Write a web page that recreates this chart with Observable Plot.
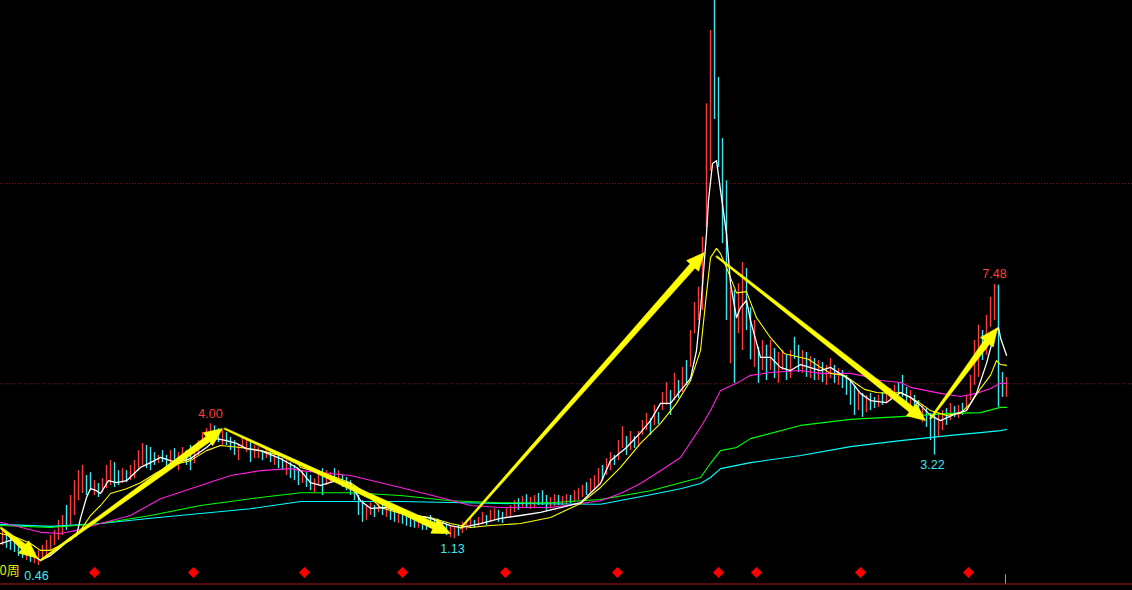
<!DOCTYPE html>
<html><head><meta charset="utf-8">
<script src="https://cdn.jsdelivr.net/npm/d3@7"></script>
<script src="https://cdn.jsdelivr.net/npm/@observablehq/plot@0.6"></script>
<style>html,body{margin:0;padding:0;background:#000;overflow:hidden}</style>
</head><body><div id="chart"></div>
<script>
// Weekly bars (every 2 weeks), price high / low, u = up (red), d = down (cyan)
const highs = [
1.34,1.29,1.21,1.14,1.04,0.96,0.89,0.84,0.79,0.84,
0.96,1.09,1.21,1.34,1.59,1.71,1.96,2.21,2.58,2.83,
2.96,2.71,2.78,2.58,2.51,2.63,2.96,3.08,3.03,2.83,
2.88,2.83,2.96,3.08,3.33,3.51,3.46,3.41,3.28,3.21,
3.33,3.21,3.33,3.38,3.28,3.41,3.33,3.46,3.38,3.58,
3.78,3.88,4.00,3.95,3.88,3.83,3.78,3.66,3.58,3.46,
3.66,3.58,3.53,3.46,3.41,3.33,3.38,3.33,3.28,3.21,
3.13,3.08,3.03,2.96,2.88,2.83,2.78,2.71,2.63,2.83,
2.88,2.83,2.78,2.88,2.83,2.71,2.66,2.58,2.46,2.21,
2.08,1.96,2.03,1.96,2.08,2.01,1.96,1.88,1.84,1.79,
1.76,1.71,1.69,1.64,1.66,1.64,1.59,1.71,1.59,1.54,
1.54,1.49,1.46,1.41,1.46,1.54,1.59,1.64,1.59,1.66,
1.79,1.71,1.84,1.88,1.84,1.79,1.88,1.96,2.08,2.13,
2.18,2.23,2.16,2.21,2.26,2.33,2.21,2.16,2.23,2.21,
2.18,2.23,2.21,2.33,2.38,2.46,2.53,2.63,2.71,2.88,
2.96,3.13,3.28,3.21,3.58,3.93,3.68,3.81,3.68,3.81,
4.08,4.26,4.13,4.46,4.28,4.78,5.03,4.83,5.26,5.08,
5.41,5.58,6.33,7.03,7.41,8.66,11.99,13.82,14.8,12.65,
11.12,10.07,7.41,7.33,7.50,8.03,7.88,6.90,6.58,5.91,
6.08,5.96,6.08,5.88,5.78,5.83,5.71,5.83,6.16,5.96,
5.83,5.78,5.68,5.63,5.58,5.53,5.46,5.63,5.46,5.38,
5.33,5.21,5.08,4.96,4.83,4.76,4.71,4.76,4.66,4.71,
4.78,4.83,4.88,4.96,5.01,5.21,4.91,4.83,4.71,4.58,
4.46,4.38,4.26,4.21,4.28,4.33,4.38,4.51,4.43,4.46,
4.51,4.71,5.21,6.08,6.46,6.33,6.71,7.16,7.48,7.46,5.28,5.16
];
const lows = [
0.96,0.89,0.84,0.79,0.69,0.64,0.59,0.54,0.51,0.46,
0.59,0.69,0.84,0.96,1.09,1.21,1.34,1.46,1.71,2.08,
2.26,2.21,2.33,2.21,2.16,2.28,2.38,2.46,2.41,2.46,
2.51,2.53,2.58,2.63,2.83,2.96,2.88,2.83,2.96,3.01,
3.03,2.88,2.91,2.96,2.83,3.03,2.96,2.83,3.01,3.21,
3.41,3.53,3.58,3.63,3.53,3.46,3.46,3.33,3.21,3.08,
3.38,3.28,3.03,3.13,3.13,3.08,3.13,3.03,2.96,2.88,
2.83,2.71,2.63,2.58,2.46,2.51,2.41,2.33,2.28,2.46,
2.21,2.46,2.53,2.58,2.51,2.41,2.33,2.21,2.08,1.71,
1.54,1.59,1.71,1.66,1.78,1.71,1.66,1.59,1.54,1.51,
1.49,1.44,1.41,1.39,1.39,1.34,1.34,1.39,1.34,1.29,
1.24,1.21,1.16,1.13,1.19,1.26,1.34,1.39,1.39,1.44,
1.49,1.46,1.54,1.59,1.54,1.51,1.64,1.69,1.78,1.84,
1.88,1.88,1.86,1.91,1.96,1.96,1.84,1.88,1.93,1.96,
1.96,1.98,2.01,2.03,2.08,2.16,2.21,2.28,2.33,2.46,
2.58,2.71,2.83,2.96,3.08,3.38,3.21,3.33,3.38,3.41,
3.71,3.83,3.71,3.96,3.98,4.33,4.46,4.21,4.58,4.63,
4.78,4.96,5.41,6.25,6.58,6.83,8.90,10.30,11.60,10.40,
8.50,6.58,5.50,5.01,6.25,5.83,6.33,5.60,5.41,5.01,
5.33,5.08,5.33,5.13,5.01,5.33,5.08,5.13,5.61,5.28,
5.26,5.16,5.13,5.08,5.08,5.03,4.96,5.13,5.01,4.96,
4.88,4.71,4.46,4.21,4.33,4.16,4.28,4.33,4.38,4.41,
4.46,4.51,4.58,4.63,4.71,4.66,4.51,4.46,4.33,4.13,
4.03,3.91,3.58,3.22,3.66,3.83,3.96,4.08,4.16,4.13,
4.21,4.33,4.58,4.96,5.16,5.58,5.71,6.41,6.58,4.41,4.66,4.66
];
const dirs = [
"uddddduduu","uuuuuuduuu","udduduuudd","uduuuudddu","dduduudduu",
"uuuddudddu","uuduududud","dudddudduu","duududdddd","duudududdu",
"dddduddddd","dduuduuudu","uduudduuud","uduuddduud","uuduuuduuu",
"duuduududu","uududuudud","uduuuuuudd","dduduuddud","ududuududd",
"udududuudu","ddddududdu","duuudddudd","uddduududu","duuuuduuuddu"
].join("");

// Moving averages: [week, price]
const ma5 = [[0,1.01],[8,1.14],[15,0.76],[20,0.59],[25,0.71],[30,0.91],[35,1.16],[38,1.21],[40,1.64],[43,2.16],[45,2.38],[48,2.33],[50,2.26],[54,2.58],[58,2.53],[63,2.58],[70,2.91],[75,3.03],[80,3.16],[88,3.03],[95,3.13],[103,3.41],[108,3.63],[113,3.58],[118,3.51],[123,3.38],[130,3.33],[140,3.13],[148,2.91],[150,2.83],[155,2.53],[160,2.46],[168,2.58],[175,2.51],[180,2.08],[185,1.89],[193,1.91],[200,1.79],[215,1.64],[225,1.46],[230,1.41],[240,1.51],[250,1.64],[260,1.71],[270,1.79],[280,1.91],[290,2.03],[300,2.51],[305,3.08],[313,3.41],[320,3.78],[325,4.08],[330,4.51],[335,4.51],[340,4.83],[345,5.13],[348,5.83],[350,6.83],[353,8.75],[354,9.58],[356,10.50],[358,10.57],[360,9.83],[363,8.75],[365,7.50],[368,6.65],[370,6.90],[373,7.08],[375,6.58],[380,5.66],[385,5.66],[390,5.41],[395,5.33],[400,5.48],[410,5.33],[415,5.41],[425,5.08],[430,4.76],[435,4.58],[443,4.53],[450,4.78],[455,4.66],[460,4.46],[465,4.21],[470,4.08],[478,4.26],[483,4.33],[488,4.76],[493,5.51],[497,6.25],[499,6.40],[500,6.15],[503,5.71]];
const ma10 = [[0,1.26],[8,1.16],[15,1.01],[20,0.84],[25,0.84],[35,1.09],[40,1.34],[45,1.71],[50,1.96],[55,2.26],[63,2.38],[70,2.53],[78,2.78],[85,2.96],[95,3.08],[103,3.33],[110,3.46],[120,3.41],[130,3.33],[140,3.21],[148,3.08],[150,2.91],[165,2.71],[175,2.53],[183,2.26],[190,1.91],[200,1.76],[215,1.66],[225,1.51],[235,1.41],[245,1.46],[260,1.51],[275,1.66],[290,2.01],[300,2.41],[310,2.91],[320,3.51],[330,4.01],[338,4.51],[345,5.08],[350,5.83],[353,7.25],[355,8.15],[358,8.38],[360,8.25],[363,7.90],[368,7.27],[373,7.30],[378,6.65],[385,6.15],[392,5.75],[398,5.68],[404,5.61],[410,5.41],[415,5.26],[422,5.21],[427,5.03],[432,4.86],[438,4.78],[445,4.76],[450,4.78],[455,4.66],[460,4.51],[465,4.33],[468,4.28],[473,4.21],[480,4.26],[485,4.51],[490,4.88],[495,5.21],[498,5.58],[500,5.48],[503,5.46]];
const ma30 = [[0,1.54],[20,1.29],[30,1.26],[38,1.34],[50,1.51],[65,1.71],[80,2.13],[100,2.46],[115,2.71],[130,2.83],[145,2.88],[150,2.83],[175,2.71],[200,2.41],[220,2.16],[235,1.96],[250,1.91],[275,1.91],[300,2.08],[310,2.26],[320,2.51],[330,2.83],[340,3.16],[350,3.91],[355,4.33],[360,4.83],[368,5.01],[375,5.21],[385,5.28],[400,5.33],[410,5.26],[425,5.26],[435,5.16],[440,5.08],[450,5.03],[455,4.91],[470,4.76],[480,4.68],[488,4.76],[495,4.88],[500,5.01],[503,5.01]];
const ma60 = [[0,1.46],[25,1.41],[50,1.51],[75,1.71],[100,1.96],[125,2.13],[150,2.28],[175,2.28],[200,2.21],[225,2.08],[250,2.03],[275,2.03],[300,2.11],[325,2.33],[340,2.53],[350,2.66],[355,3.01],[360,3.33],[368,3.41],[375,3.63],[400,3.96],[425,4.11],[450,4.18],[475,4.26],[490,4.28],[500,4.41],[503,4.41]];
const ma120 = [[0,1.49],[25,1.44],[50,1.51],[75,1.64],[100,1.76],[125,1.88],[150,2.06],[200,2.06],[250,2.01],[300,1.99],[325,2.23],[340,2.38],[350,2.51],[355,2.66],[360,2.88],[375,3.03],[400,3.21],[425,3.43],[450,3.58],[475,3.71],[490,3.78],[500,3.83],[503,3.86]];

// Year markers (week numbers)
const markerWeeks = [47,96.5,152,201,252.5,308.5,359,378,430,484];
const cursorWeek = 502.5;

// Trend arrows: [week1, price1, week2, price2]
const trendArrows = [
  [0,1.41,18.5,0.64],
  [20,0.59,111,3.88],
  [112,3.88,225,1.26],
  [230,1.39,352,8.28],
  [358,8.18,462.5,4.08],
  [465,4.13,498.5,6.40]
];

// Extreme labels
const highLabels = [{week:105, price:4.00},{week:497, price:7.48}];
const lowLabels = [{week:19, price:0.46},{week:227, price:1.13},{week:467, price:3.22}];
const periodLabel = ["0周"];

// ---------- build ----------
const RED = "#ff3c3c", CYAN = "#3ee8f0", YEL = "#ffff00";
const bars = highs.map((h,i)=>({week: 2*i+1, high: h, low: lows[i], up: dirs[i] === "u"}));
const xDomain=[0,566], xRange=[0,1132], yDomain=[0,14.57], yRange=[583.5,0];
const sx = Plot.scale({x:{domain:xDomain, range:xRange}});
const sy = Plot.scale({y:{domain:yDomain, range:yRange}});
const inv = (s, d, r) => (s.invert ? (v)=>s.invert(v) : (v)=> d[0] + (v-r[0])/(r[1]-r[0])*(d[1]-d[0]));
const ix = inv(sx, xDomain, xRange), iy = inv(sy, yDomain, yRange);

function arrowPolygon(a, id){
  const [x1,y1,x2,y2] = a;
  const px1=sx.apply(x1), py1=sy.apply(y1), px2=sx.apply(x2), py2=sy.apply(y2);
  const dx=px2-px1, dy=py2-py1, L=Math.hypot(dx,dy);
  const ux=dx/L, uy=dy/L, nx=-uy, ny=ux;
  const headLen=Math.min(18, L*0.4), headHalf=8, tail=0.8, neck=3.3;
  const bx=px2-ux*headLen, by=py2-uy*headLen;
  const pts=[[px1+nx*tail,py1+ny*tail],[bx+nx*neck,by+ny*neck],[bx+nx*headHalf,by+ny*headHalf],[px2,py2],
             [bx-nx*headHalf,by-ny*headHalf],[bx-nx*neck,by-ny*neck],[px1-nx*tail,py1-ny*tail]];
  return pts.map(([px,py])=>({id, week: ix(px), price: iy(py)}));
}
const arrowPts = trendArrows.flatMap((a,i)=>arrowPolygon(a,i));

const lineOpts = (stroke, w=1.1) => ({x: d=>d[0], y: d=>d[1], stroke, strokeWidth: w});

const chart = Plot.plot({
  width: 1132, height: 590,
  marginTop: 0, marginRight: 0, marginBottom: 6.5, marginLeft: 0,
  x: {domain: xDomain, range: xRange, axis: null},
  y: {domain: yDomain, range: yRange, axis: null},
  style: {background: "#000", overflow: "hidden"},
  marks: [
    Plot.ruleY([5,10], {stroke: "#8a1010", strokeDasharray: "1,2"}),
    Plot.ruleY([0], {stroke: "#b01818"}),
    Plot.ruleX(bars.filter(d=>d.up), {x:"week", y1:"low", y2:"high", stroke: RED, strokeWidth: 1.4}),
    Plot.ruleX(bars.filter(d=>!d.up), {x:"week", y1:"low", y2:"high", stroke: CYAN, strokeWidth: 1.4}),
    Plot.line(ma120, lineOpts("#00ffff")),
    Plot.line(ma60, lineOpts("#00ff00")),
    Plot.line(ma30, lineOpts("#ff20e0")),
    Plot.line(ma10, lineOpts("#ffff00")),
    Plot.line(ma5, lineOpts("#ffffff", 1.3)),
    Plot.line(arrowPts, {x:"week", y:"price", z:"id", fill: YEL, stroke: YEL, strokeWidth: 0.6, curve: "linear-closed"}),
    Plot.dot(markerWeeks, {x: d=>d, frameAnchor: "bottom", dy: -11.5, symbol: "diamond2", r: 5, fill: "#ff0000", stroke: "none"}),
    Plot.ruleX([cursorWeek], {y1: 0, y2: 0.23, stroke: "#a0a0a0"}),
    Plot.text(highLabels, {x:"week", y:"price", text: d=>d.price.toFixed(2), dy: -10, fill: RED, fontSize: 12.5, fontFamily: "Liberation Sans"}),
    Plot.text(lowLabels, {x:"week", y:"price", text: d=>d.price.toFixed(2), dy: 10, dx: -2, fill: CYAN, fontSize: 12.5, fontFamily: "Liberation Sans"}),
    Plot.text(periodLabel, {text: d=>d, frameAnchor: "bottom-left", dy: -9.5, dx: -1, textAnchor: "start", fill: "#e6e600", fontSize: 13, fontFamily: "Noto Sans CJK SC"})
  ]
});
document.getElementById("chart").appendChild(chart);
</script>
</body></html>
